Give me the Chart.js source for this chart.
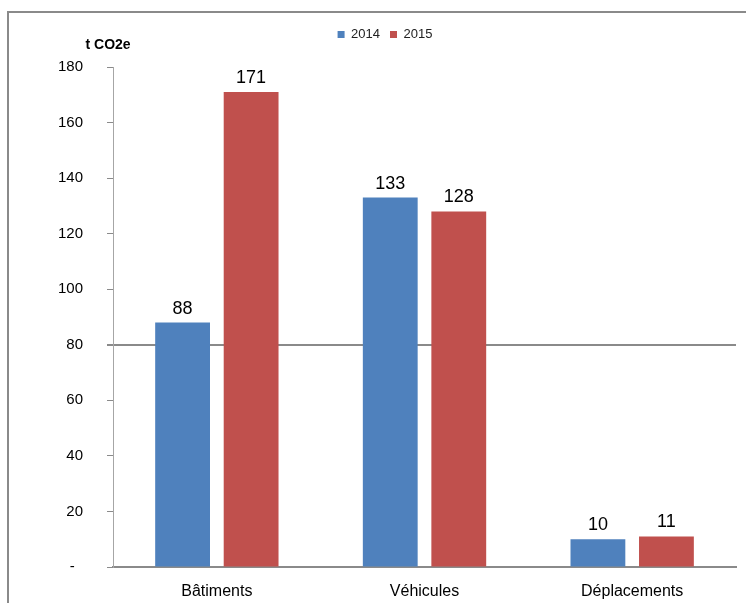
<!DOCTYPE html>
<html>
<head>
<meta charset="utf-8">
<script src="https://cdn.jsdelivr.net/npm/chart.js@4/dist/chart.umd.min.js"></script>
<style>
  body { margin: 0; background: #fff; }
  #wrap { position: relative; width: 746px; height: 603px; overflow: hidden; }
  #frame {
    position: absolute; left: 7px; top: 11px; width: 800px; height: 700px;
    border-left: 2px solid #8a8a8a; border-top: 2px solid #8a8a8a;
  }
  canvas { position: absolute; left: 0; top: 0; }
</style>
</head>
<body>
<div id="wrap">
  <div id="frame"></div>
  <canvas id="chart" width="746" height="603"></canvas>
</div>
<script>
const categories = ["Bâtiments", "Véhicules", "Déplacements"];
const values2014 = [88, 133, 10];
const values2015 = [171, 128, 11];
const seriesNames = ["2014", "2015"];
const yTicks = [0, 20, 40, 60, 80, 100, 120, 140, 160, 180];
const unitLabel = "t CO2e";

const FONT = '"Liberation Sans", Arial, sans-serif';

// value on top of each bar
const barValueLabels = {
  id: "barValueLabels",
  afterDatasetsDraw(chart) {
    const ctx = chart.ctx;
    ctx.save();
    ctx.font = "18px " + FONT;
    ctx.fillStyle = "#000";
    ctx.textAlign = "center";
    ctx.textBaseline = "bottom";
    chart.data.datasets.forEach((ds, i) => {
      chart.getDatasetMeta(i).data.forEach((bar, j) => {
        ctx.fillText(ds.data[j], bar.x, bar.y - 5);
      });
    });
    ctx.restore();
  },
};

// unit label above the value axis
const unitTitle = {
  id: "unitTitle",
  afterDraw(chart) {
    const ctx = chart.ctx;
    const y = chart.scales.y;
    ctx.save();
    ctx.font = "bold 14px " + FONT;
    ctx.fillStyle = "#000";
    ctx.textAlign = "center";
    ctx.textBaseline = "middle";
    ctx.fillText(unitLabel, y.right - 5, chart.chartArea.top - 22);
    ctx.restore();
  },
};

// leave more room between the legend and the plot
const legendSpacing = {
  id: "legendSpacing",
  afterInit(chart) {
    const fit = chart.legend.fit;
    chart.legend.fit = function () {
      fit.call(this);
      this.height = 49;
    };
  },
};

new Chart(document.getElementById("chart").getContext("2d"), {
  type: "bar",
  data: {
    labels: categories,
    datasets: [
      { label: seriesNames[0], data: values2014, backgroundColor: "#4F81BD" },
      { label: seriesNames[1], data: values2015, backgroundColor: "#C0504D" },
    ],
  },
  options: {
    responsive: false,
    animation: false,
    layout: { padding: { left: 34, right: 10, top: 18, bottom: 0 } },
    datasets: { bar: { categoryPercentage: 0.66, barPercentage: 0.8 } },
    plugins: {
      tooltip: { enabled: false },
      legend: {
        position: "top",
        labels: {
          boxWidth: 7,
          boxHeight: 7,
          padding: 10,
          color: "#222",
          font: { family: FONT, size: 13 },
        },
      },
    },
    scales: {
      x: {
        afterFit(scale) {
          scale.height = 36;
        },
        grid: { display: false },
        border: { display: true, color: "#8a8a8a", width: 2 },
        ticks: { color: "#000", padding: 7, font: { family: FONT, size: 16 } },
      },
      y: {
        min: 0,
        max: 180,
        afterBuildTicks(scale) {
          scale.ticks = yTicks.map((v) => ({ value: v }));
        },
        grid: {
          color: (c) => (c.tick && c.tick.value === 80 ? "#8a8a8a" : "rgba(0,0,0,0)"),
          lineWidth: (c) => (c.tick && c.tick.value === 80 ? 2 : 1),
          tickColor: "#8a8a8a",
          tickLength: 6,
        },
        border: { color: "#a6a6a6", width: 1 },
        ticks: {
          color: "#000",
          padding: 24,
          font: { family: FONT, size: 15 },
          callback: (v) => (v === 0 ? "-  " : v),
        },
      },
    },
  },
  plugins: [barValueLabels, unitTitle, legendSpacing],
});
</script>
</body>
</html>
